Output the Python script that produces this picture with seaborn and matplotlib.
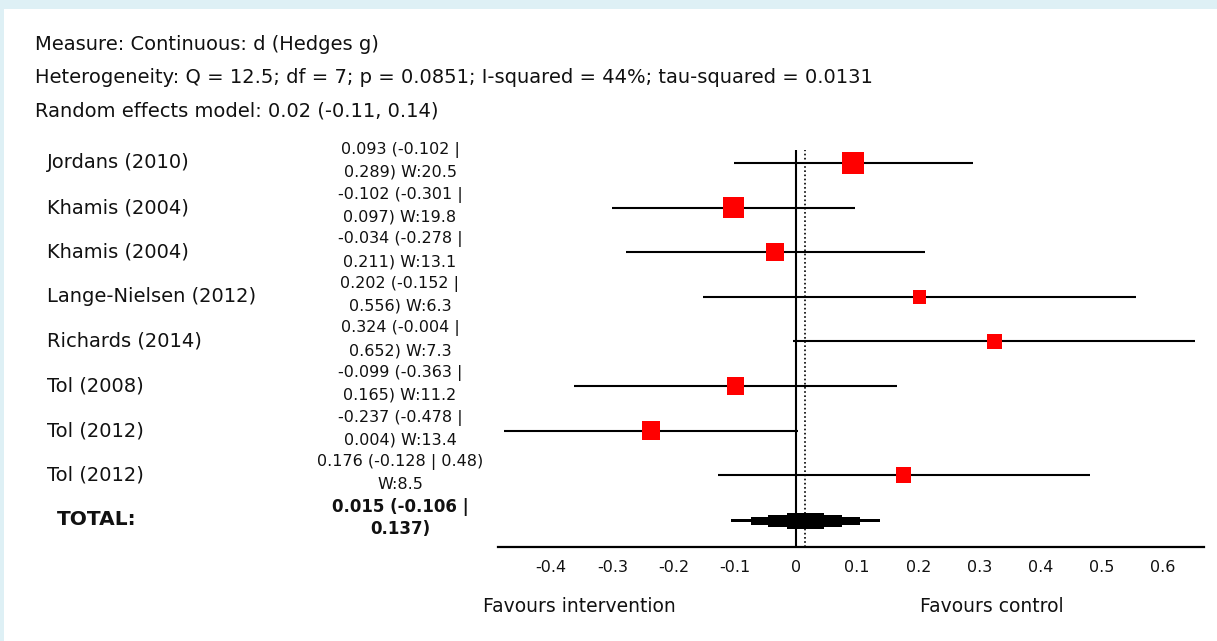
import matplotlib
matplotlib.use("Agg")
import matplotlib.pyplot as plt
from matplotlib.patches import Rectangle
import numpy as np
import pandas as pd
import seaborn as sns

# Study-level results (Hedges g, 95% CI, weight %)
studies = ["Jordans (2010)", "Khamis (2004)", "Khamis (2004)", "Lange-Nielsen (2012)",
           "Richards (2014)", "Tol (2008)", "Tol (2012)", "Tol (2012)"]
effect = [0.093, -0.102, -0.034, 0.202, 0.324, -0.099, -0.237, 0.176]
ci_low = [-0.102, -0.301, -0.278, -0.152, -0.004, -0.363, -0.478, -0.128]
ci_high = [0.289, 0.097, 0.211, 0.556, 0.652, 0.165, 0.004, 0.48]
weight = [20.5, 19.8, 13.1, 6.3, 7.3, 11.2, 13.4, 8.5]

# Pooled random-effects estimate
total_effect = 0.015
total_low = -0.106
total_high = 0.137

x_ticks = [-0.4, -0.3, -0.2, -0.1, 0, 0.1, 0.2, 0.3, 0.4, 0.5, 0.6]
header_lines = [
    "Measure: Continuous: d (Hedges g)",
    "Heterogeneity: Q = 12.5; df = 7; p = 0.0851; I-squared = 44%; tau-squared = 0.0131",
    "Random effects model: 0.02 (-0.11, 0.14)",
]

sns.set_theme(style="white")
plt.rcParams["font.family"] = ["DejaVu Sans"]
plt.rcParams["axes.unicode_minus"] = False

W, H = 1217, 641
fig = plt.figure(figsize=(W / 100, H / 100), dpi=100)
fig.patch.set_facecolor("#DEF0F5")
fig.patches.append(Rectangle((4 / W, 0), 1, (H - 9) / H, transform=fig.transFigure,
                             facecolor="white", edgecolor="none", zorder=-10))

ax_left, ax_right, ax_top, ax_bottom = 498, 1204, 150, 547
ax = fig.add_axes([ax_left / W, (H - ax_bottom) / H,
                   (ax_right - ax_left) / W, (ax_bottom - ax_top) / H])
ax.set_facecolor("none")

df = pd.DataFrame({"study": studies, "effect": effect, "low": ci_low,
                   "high": ci_high, "weight": weight})
df["row"] = np.arange(len(df))
row_px = 44.6
total_row = len(df)

# Confidence intervals
ax.hlines(df["row"], df["low"], df["high"], color="black", lw=1.5, zorder=2)

# Weighted squares
side_pt = (4 + 3.96 * np.sqrt(df["weight"])) * 0.72
size_map = {w: s ** 2 for w, s in zip(df["weight"], side_pt)}
sns.scatterplot(data=df, x="effect", y="row", size="weight", sizes=size_map,
                marker="s", color="#FF0000", edgecolor="none", linewidth=0,
                legend=False, ax=ax, zorder=3)

# Pooled estimate drawn as a stepped diamond
half_l = total_effect - total_low
half_r = total_high - total_effect
for frac, h_px in [(1.0, 3), (0.73, 8), (0.5, 12), (0.25, 16)]:
    ax.barh(total_row + 0.02, width=frac * (half_l + half_r),
            left=total_effect - frac * half_l, height=h_px / row_px,
            color="black", edgecolor="none", linewidth=0, zorder=4)

ax.axvline(0, color="black", lw=1.5, zorder=1)
ax.axvline(total_effect, color="black", lw=1.2, ls=(0, (1, 1.5)), zorder=1)

ax.set_xlim(-0.487, 0.667)
ax.set_ylim(8.61, -0.291)
ax.set_xticks(x_ticks)
ax.set_xticklabels([f"{t:g}" for t in x_ticks])
ax.set_yticks([])
ax.set_xlabel("")
ax.set_ylabel("")
for side in ["top", "right", "left"]:
    ax.spines[side].set_visible(False)
ax.spines["bottom"].set_linewidth(1.6)
ax.spines["bottom"].set_color("black")
ax.tick_params(axis="x", direction="in", length=10, width=1.3, color="black",
               pad=9, labelsize=11.5, labelcolor="#111111")

tr = ax.get_yaxis_transform()
name_x = (47 - ax_left) / (ax_right - ax_left)
ci_x = (400 - ax_left) / (ax_right - ax_left)
off = 0.25

def fmt(v):
    return f"{v:g}"

for i, r in df.iterrows():
    ax.text(name_x, r["row"], r["study"], transform=tr, ha="left", va="center",
            fontsize=14, color="#111111", clip_on=False)
    full = f"{fmt(r['effect'])} ({fmt(r['low'])} | {fmt(r['high'])})"
    if len(full) <= 21:
        l1, l2 = full, f"W:{fmt(r['weight'])}"
    else:
        l1 = f"{fmt(r['effect'])} ({fmt(r['low'])} |"
        l2 = f"{fmt(r['high'])}) W:{fmt(r['weight'])}"
    ax.text(ci_x, r["row"] - off - 0.04, l1, transform=tr, ha="center", va="center",
            fontsize=11.5, color="#111111", clip_on=False)
    ax.text(ci_x, r["row"] + off - 0.04, l2, transform=tr, ha="center", va="center",
            fontsize=11.5, color="#111111", clip_on=False)

ax.text((57 - ax_left) / (ax_right - ax_left), total_row, "TOTAL:", transform=tr,
        ha="left", va="center", fontsize=14.5, fontweight="bold", color="#111111",
        clip_on=False)
ax.text(ci_x, total_row - off - 0.04,
        f"{fmt(total_effect)} ({fmt(total_low)} |", transform=tr, ha="center",
        va="center", fontsize=12, fontweight="bold", color="#111111", clip_on=False)
ax.text(ci_x, total_row + off - 0.04, f"{fmt(total_high)})", transform=tr,
        ha="center", va="center", fontsize=12, fontweight="bold", color="#111111",
        clip_on=False)

for k, line in enumerate(header_lines):
    fig.text(35 / W, 1 - (44 + k * 33.5) / H, line, ha="left", va="center",
             fontsize=14, color="#111111")

fig.text(483 / W, 1 - 607 / H, "Favours intervention", ha="left", va="center",
         fontsize=13.5, color="#111111")
fig.text(920 / W, 1 - 607 / H, "Favours control", ha="left", va="center",
         fontsize=13.5, color="#111111")

fig.savefig("out.png", dpi=100, facecolor=fig.get_facecolor())
